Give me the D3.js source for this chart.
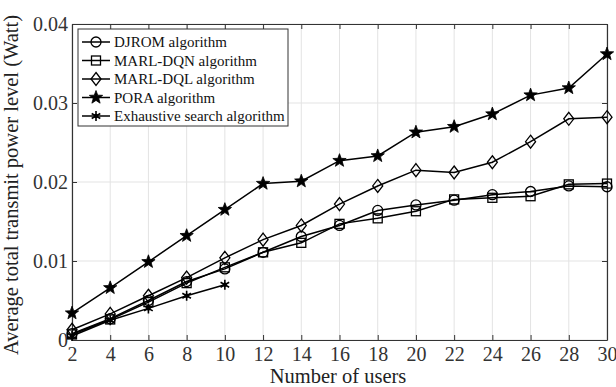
<!DOCTYPE html>
<html><head><meta charset="utf-8">
<script src="https://cdn.jsdelivr.net/npm/d3@7"></script>
<style>body{margin:0;background:#fff}svg{display:block}text{font-family:"Liberation Serif","Times New Roman",serif}</style>
</head><body><svg id="c" width="616" height="387"></svg>
<script>
const users = [2,4,6,8,10,12,14,16,18,20,22,24,26,28,30];
const djrom = [0.0008,0.0027,0.0050,0.0074,0.0090,0.0111,0.0131,0.0145,0.0164,0.0171,0.0177,0.0184,0.0188,0.0195,0.0194];
const marlDqn = [0.0007,0.0026,0.0048,0.0072,0.0092,0.0111,0.0123,0.0147,0.0154,0.0163,0.0178,0.0180,0.0182,0.0197,0.0198];
const marlDql = [0.0013,0.0033,0.0056,0.0079,0.0104,0.0127,0.0145,0.0172,0.0195,0.0215,0.0212,0.0225,0.0251,0.0280,0.0282];
const pora = [0.0034,0.0066,0.0099,0.0132,0.0165,0.0198,0.0201,0.0227,0.0233,0.0263,0.0270,0.0286,0.0310,0.0319,0.0362];
const exhaustiveUsers = [2,4,6,8,10];
const exhaustive = [0.0005,0.0025,0.0040,0.0056,0.0070];
const xTicks = [2,4,6,8,10,12,14,16,18,20,22,24,26,28,30];
const yTicks = [0,0.01,0.02,0.03,0.04];
const yTickLabels = ["0","0.01","0.02","0.03","0.04"];
const seriesNames = ["DJROM algorithm","MARL-DQN algorithm","MARL-DQL algorithm","PORA algorithm","Exhaustive search algorithm"];

const svg = d3.select("#c");
const L=72,R=607,T=24,B=340;
const x = d3.scaleLinear().domain([2,30]).range([L,R]);
const y = d3.scaleLinear().domain([0,0.04]).range([B,T]);

// grid
svg.append("g").selectAll("line").data(xTicks).join("line")
  .attr("x1",d=>x(d)).attr("x2",d=>x(d)).attr("y1",T).attr("y2",B)
  .attr("stroke","#e3e3e3").attr("stroke-width",1);
svg.append("g").selectAll("line").data(yTicks).join("line")
  .attr("x1",L).attr("x2",R).attr("y1",d=>y(d)).attr("y2",d=>y(d))
  .attr("stroke","#e3e3e3").attr("stroke-width",1);

// axes
const fs=20;
const gx = svg.append("g").attr("transform",`translate(0,${B})`)
  .call(d3.axisBottom(x).tickValues(xTicks).tickSizeInner(-5).tickSizeOuter(0).tickPadding(10));
const gxt = svg.append("g").attr("transform",`translate(0,${T})`)
  .call(d3.axisTop(x).tickValues(xTicks).tickSizeInner(-5).tickSizeOuter(0).tickFormat(""));
const gy = svg.append("g").attr("transform",`translate(${L},0)`)
  .call(d3.axisLeft(y).tickValues(yTicks).tickSizeInner(-5).tickSizeOuter(0).tickPadding(4).tickFormat((d,i)=>yTickLabels[i]));
const gyr = svg.append("g").attr("transform",`translate(${R},0)`)
  .call(d3.axisRight(y).tickValues(yTicks).tickSizeInner(-5).tickSizeOuter(0).tickFormat(""));
[gx,gxt,gy,gyr].forEach(g=>{
  g.selectAll("path").attr("stroke","#333").attr("stroke-width",1.2);
  g.selectAll("line").attr("stroke","#333");
  g.selectAll("text").attr("font-size",fs).attr("fill","#333").style("font-family","Liberation Serif");
});
gx.selectAll("text").attr("dy","0.55em");

// axis titles
svg.append("text").attr("x",338).attr("y",383).attr("text-anchor","middle")
  .attr("font-size",20.5).attr("fill","#222").text("Number of users");
svg.append("text").attr("transform",`translate(18,${185}) rotate(-90)`).attr("text-anchor","middle")
  .attr("font-size",20.5).attr("fill","#222").text("Average total transmit power level (Watt)");

// markers
function star(n, ro, ri){const pts=[];for(let i=0;i<2*n;i++){const r=i%2?ri:ro;const a=-Math.PI/2+i*Math.PI/n;pts.push([r*Math.cos(a),r*Math.sin(a)]);}return "M"+pts.map(p=>p.join(",")).join("L")+"Z";}
const markers = [
  g=>g.append("circle").attr("r",5).attr("fill","none").attr("stroke","#000").attr("stroke-width",1.3),
  g=>g.append("rect").attr("x",-4.5).attr("y",-4.5).attr("width",9).attr("height",9).attr("fill","none").attr("stroke","#000").attr("stroke-width",1.3),
  g=>g.append("path").attr("d","M0,-6.5L5,0L0,6.5L-5,0Z").attr("fill","none").attr("stroke","#000").attr("stroke-width",1.3),
  g=>g.append("path").attr("d",star(5,7,2.9)).attr("fill","#000").attr("stroke","#000").attr("stroke-width",0.8),
  g=>{g.append("path").attr("d","M0,-5L0,5M-4.3,-2.5L4.3,2.5M-4.3,2.5L4.3,-2.5").attr("stroke","#000").attr("stroke-width",1.6);
      g.append("circle").attr("r",2.2).attr("fill","#000");}
];
const series = [
  {xs:users, ys:djrom},
  {xs:users, ys:marlDqn},
  {xs:users, ys:marlDql},
  {xs:users, ys:pora},
  {xs:exhaustiveUsers, ys:exhaustive}
];
const line = d3.line().x(d=>x(d[0])).y(d=>y(d[1]));
series.forEach((s,i)=>{
  const pts = s.xs.map((v,j)=>[v,s.ys[j]]);
  svg.append("path").attr("d",line(pts)).attr("fill","none").attr("stroke","#000").attr("stroke-width",1.5);
  pts.forEach(p=>{const g=svg.append("g").attr("transform",`translate(${x(p[0])},${y(p[1])})`);markers[i](g);});
});

// legend
const lg = svg.append("g");
lg.append("rect").attr("x",78).attr("y",29).attr("width",210).attr("height",97).attr("fill","#fff").attr("stroke","#333").attr("stroke-width",1);
seriesNames.forEach((n,i)=>{
  const yy = 42 + i*18.5;
  lg.append("line").attr("x1",82).attr("x2",110).attr("y1",yy).attr("y2",yy).attr("stroke","#000").attr("stroke-width",1.5);
  const g = lg.append("g").attr("transform",`translate(96,${yy})`);
  markers[i](g);
  lg.append("text").attr("x",114).attr("y",yy+5).attr("font-size",15).attr("fill","#111").text(n);
});
</script></body></html>
